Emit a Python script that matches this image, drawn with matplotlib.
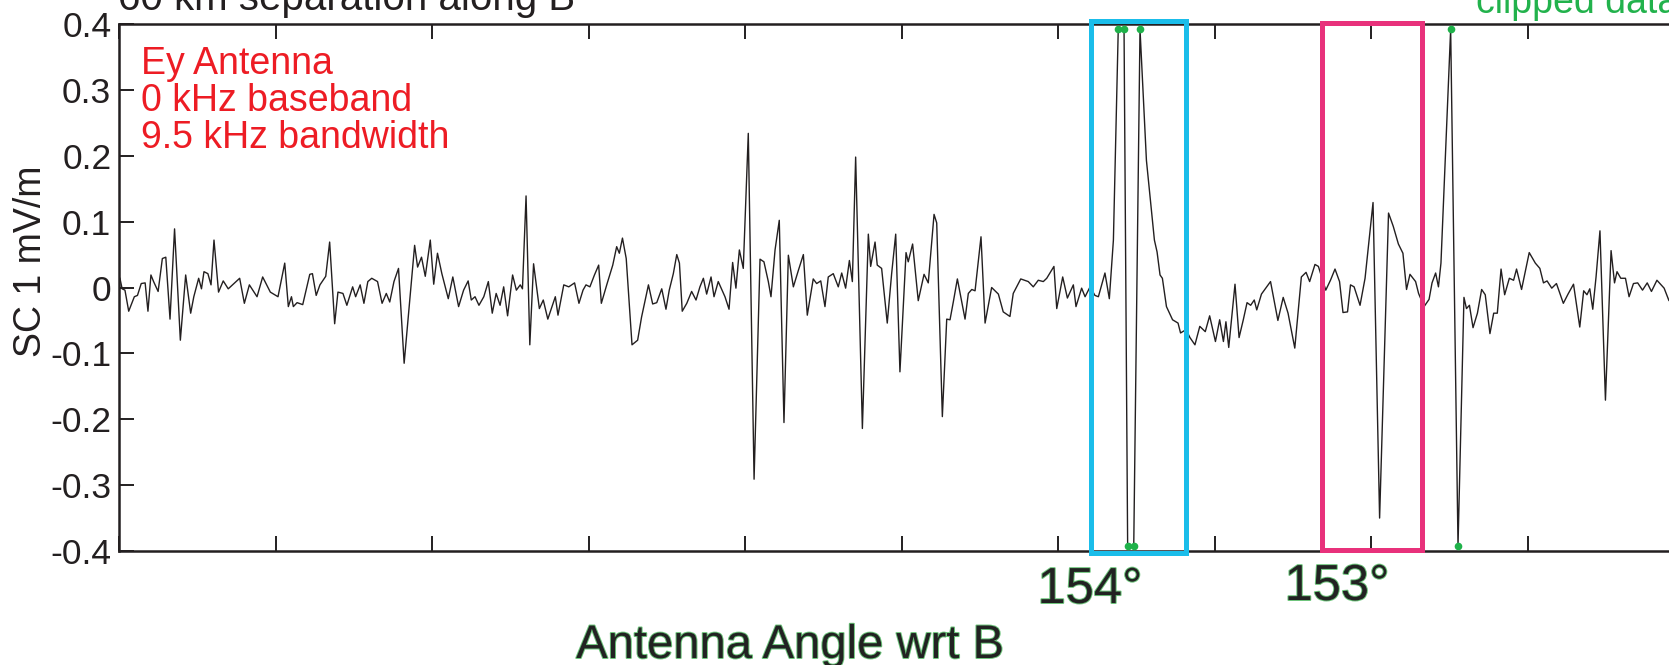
import matplotlib
matplotlib.use("Agg")
import matplotlib.pyplot as plt
import matplotlib.patheffects as pe
from matplotlib.patches import Rectangle

# trace: position along the pass (tick units) and field (mV/m)
angle = [
    0.006, 0.020, 0.038, 0.062, 0.098, 0.118, 0.142, 0.167, 0.185, 0.204,
    0.221, 0.250, 0.277, 0.299, 0.326, 0.355, 0.392, 0.426, 0.458, 0.478,
    0.509, 0.527, 0.543, 0.568, 0.588, 0.607, 0.636, 0.666, 0.698, 0.735,
    0.771, 0.801, 0.833, 0.882, 0.918, 0.967, 1.016, 1.059, 1.082, 1.102,
    1.114, 1.138, 1.174, 1.219, 1.236, 1.260, 1.284, 1.321, 1.346, 1.378,
    1.399, 1.431, 1.456, 1.493, 1.512, 1.541, 1.565, 1.590, 1.615, 1.652,
    1.681, 1.708, 1.730, 1.757, 1.786, 1.822, 1.889, 1.908, 1.933, 1.957,
    1.989, 2.011, 2.035, 2.063, 2.104, 2.133, 2.170, 2.202, 2.231, 2.251,
    2.275, 2.300, 2.331, 2.360, 2.385, 2.410, 2.435, 2.458, 2.483, 2.515,
    2.539, 2.564, 2.578, 2.601, 2.625, 2.649, 2.686, 2.711, 2.740, 2.788,
    2.805, 2.842, 2.874, 2.911, 2.939, 2.965, 2.984, 3.009, 3.038, 3.065,
    3.082, 3.119, 3.155, 3.180, 3.197, 3.217, 3.241, 3.278, 3.314, 3.339,
    3.383, 3.410, 3.436, 3.468, 3.495, 3.516, 3.542, 3.564, 3.581, 3.599,
    3.628, 3.659, 3.687, 3.712, 3.734, 3.755, 3.783, 3.802, 3.829, 3.872,
    3.898, 3.921, 3.942, 3.964, 3.989, 4.021, 4.058, 4.096, 4.121, 4.149,
    4.166, 4.192, 4.219, 4.249, 4.277, 4.309, 4.341, 4.373, 4.398, 4.436,
    4.458, 4.484, 4.511, 4.532, 4.564, 4.596, 4.618, 4.643, 4.667, 4.686,
    4.707, 4.750, 4.788, 4.803, 4.831, 4.845, 4.873, 4.909, 4.937, 4.963,
    4.990, 5.029, 5.043, 5.071, 5.107, 5.144, 5.171, 5.208, 5.225, 5.261,
    5.289, 5.310, 5.331, 5.357, 5.406, 5.427, 5.449, 5.470, 5.508, 5.534,
    5.576, 5.619, 5.650, 5.693, 5.714, 5.762, 5.810, 5.842, 5.874, 5.906,
    5.928, 5.974, 5.992, 6.030, 6.060, 6.098, 6.115, 6.151, 6.173, 6.205,
    6.236, 6.258, 6.300, 6.328, 6.354, 6.385, 6.422, 6.445, 6.484, 6.524,
    6.546, 6.565, 6.588, 6.616, 6.633, 6.652, 6.667, 6.693, 6.732, 6.767,
    6.783, 6.818, 6.843, 6.875, 6.906, 6.941, 6.969, 7.006, 7.033, 7.057,
    7.073, 7.091, 7.131, 7.157, 7.184, 7.208, 7.231, 7.254, 7.270, 7.300,
    7.358, 7.405, 7.439, 7.470, 7.513, 7.555, 7.585, 7.608, 7.642, 7.664,
    7.687, 7.711, 7.741, 7.770, 7.799, 7.821, 7.850, 7.869, 7.892, 7.930,
    7.962, 8.013, 8.055, 8.112, 8.142, 8.175, 8.204, 8.227, 8.249, 8.285,
    8.304, 8.339, 8.371, 8.390, 8.413, 8.431, 8.447, 8.509, 8.556, 8.594,
    8.610, 8.629, 8.652, 8.680, 8.707, 8.730, 8.760, 8.784, 8.807, 8.831,
    8.854, 8.884, 8.911, 8.930, 8.962, 9.011, 9.050, 9.079, 9.102, 9.125,
    9.155, 9.185, 9.229, 9.259, 9.294, 9.334, 9.359, 9.380, 9.398, 9.417,
    9.438, 9.463, 9.498, 9.534, 9.556, 9.572, 9.596, 9.626, 9.649, 9.677,
    9.704, 9.735, 9.765, 9.792, 9.827, 9.873, 9.904, 9.950,
]
field = [
    0.014, -0.002, -0.004, -0.036, -0.014, -0.012, 0.006, 0.007, -0.036, 0.019,
    0.009, -0.006, 0.044, 0.046, -0.048, 0.089, -0.080, 0.019, -0.039, -0.014,
    0.014, -0.002, 0.024, 0.021, 0.004, 0.072, -0.007, 0.010, -0.002, 0.006,
    0.014, -0.024, 0.004, -0.014, 0.016, -0.007, -0.014, 0.037, -0.029, -0.014,
    -0.029, -0.023, -0.026, 0.020, 0.021, -0.012, 0.004, 0.017, 0.069, -0.055,
    -0.007, -0.009, -0.027, 0.001, -0.014, 0.004, -0.024, 0.009, 0.014, 0.009,
    -0.024, -0.009, -0.022, 0.009, 0.029, -0.115, 0.064, 0.031, 0.046, 0.017,
    0.072, 0.005, 0.052, 0.021, -0.017, 0.016, -0.029, -0.004, 0.010, -0.019,
    -0.014, -0.027, -0.014, 0.009, -0.039, -0.009, -0.027, 0.001, -0.043, 0.019,
    -0.004, 0.004, -0.002, 0.139, -0.087, 0.036, -0.032, -0.019, -0.048, -0.014,
    -0.042, 0.004, 0.001, 0.007, -0.024, -0.004, 0.004, 0.001, 0.019, 0.034,
    -0.024, 0.006, 0.034, 0.062, 0.052, 0.075, 0.044, -0.087, -0.080, -0.045,
    0.004, -0.025, -0.023, -0.002, -0.033, -0.004, 0.021, 0.050, 0.037, -0.036,
    -0.024, -0.006, -0.019, 0.001, 0.014, -0.010, 0.016, -0.014, 0.009, -0.014,
    -0.033, 0.038, -0.001, 0.057, 0.029, 0.234, -0.291, 0.043, 0.039, 0.009,
    -0.014, 0.057, 0.102, -0.205, 0.049, 0.001, 0.026, 0.050, -0.042, 0.013,
    0.006, 0.010, -0.029, 0.016, 0.021, 0.001, 0.022, -0.001, 0.041, 0.009,
    0.198, -0.214, 0.081, 0.032, 0.069, 0.034, 0.029, -0.054, 0.021, 0.081,
    -0.128, 0.053, 0.039, 0.066, -0.020, 0.020, 0.007, 0.111, 0.098, -0.196,
    -0.048, -0.049, -0.022, 0.013, -0.048, -0.009, -0.003, -0.005, 0.077, -0.054,
    0.000, -0.010, -0.037, -0.044, -0.009, 0.013, 0.009, 0.001, 0.011, 0.009,
    0.014, 0.032, -0.032, 0.016, -0.016, 0.004, -0.029, -0.001, -0.014, 0.001,
    -0.012, -0.014, 0.022, -0.017, 0.072, 0.392, 0.392, -0.392, -0.392, 0.392,
    0.285, 0.193, 0.138, 0.072, 0.054, 0.019, 0.014, -0.029, -0.049, -0.054,
    -0.069, -0.064, -0.076, -0.087, -0.059, -0.067, -0.043, -0.082, -0.049, -0.082,
    -0.052, -0.091, 0.005, -0.076, -0.049, -0.023, -0.027, -0.019, -0.034, -0.010,
    0.009, -0.050, -0.015, -0.039, -0.092, 0.016, 0.023, 0.009, 0.035, 0.032,
    0.014, -0.004, 0.011, 0.028, 0.009, -0.038, -0.037, 0.004, 0.001, -0.027,
    0.014, 0.129, -0.350, 0.113, 0.093, 0.066, 0.052, -0.003, 0.020, 0.009,
    -0.009, -0.029, -0.018, 0.007, 0.022, 0.001, 0.037, 0.392, -0.392, -0.015,
    -0.032, -0.027, -0.061, -0.039, -0.003, -0.011, -0.070, -0.039, -0.039, 0.028,
    -0.011, 0.014, 0.011, 0.028, -0.003, 0.053, 0.037, 0.029, 0.007, 0.010,
    -0.001, 0.006, -0.024, -0.010, 0.005, -0.060, -0.005, -0.011, -0.002, -0.033,
    0.016, 0.086, -0.171, 0.056, 0.007, 0.024, 0.014, 0.014, -0.014, 0.006,
    0.007, -0.004, 0.007, -0.006, 0.011, -0.001, -0.020, -0.005,
]

# clipped samples
clip_angle = [6.385, 6.422, 6.524, 8.509, 6.445, 6.484, 8.556]
clip_field = [0.392, 0.392, 0.392, 0.392, -0.392, -0.392, -0.392]

# highlighted intervals (start, end) and their angle labels
blue_span = (6.208, 6.815)
pink_span = (7.687, 8.329)
span_labels = ["154°", "153°"]

yticks = [0.4, 0.3, 0.2, 0.1, 0.0, -0.1, -0.2, -0.3, -0.4]
ytick_labels = ["0.4", "0.3", "0.2", "0.1", "0", "-0.1", "-0.2", "-0.3", "-0.4"]

plt.rcParams["font.family"] = ["Liberation Sans", "DejaVu Sans"]

dark = "#231f20"
W, H = 1669, 665

fig = plt.figure(figsize=(W / 100, H / 100), dpi=100)
ax = fig.add_axes([119 / W, 1 - 551 / H, 1565 / W, 527 / H])

ax.plot(angle, field, color=dark, lw=1.0)
ax.plot(clip_angle, clip_field, "o", color="#1fb24a", ms=5.5, mec="none", clip_on=False, zorder=5)

ax.set_xlim(0, 10)
ax.set_ylim(-0.4, 0.4)
ax.set_xticks(range(11))
ax.set_xticklabels([])
ax.set_yticks(yticks)
ax.set_yticklabels(ytick_labels)
ax.tick_params(direction="in", length=10.8, width=1.4, top=True, right=True,
               labelsize=25.5, pad=5.5, colors=dark)
for s in ax.spines.values():
    s.set_linewidth(1.8)
    s.set_color(dark)

ax.add_patch(Rectangle((blue_span[0], -0.403), blue_span[1] - blue_span[0], 0.807,
                       fill=False, ec="#1abdea", lw=3.6, clip_on=False, zorder=6))
ax.add_patch(Rectangle((pink_span[0], -0.399), pink_span[1] - pink_span[0], 0.800,
                       fill=False, ec="#e8317b", lw=3.6, clip_on=False, zorder=6))

outline = [pe.Stroke(linewidth=1.4, foreground="#6cc47a"), pe.Normal()]
fig.text(1090 / W, 1 - 603 / H, span_labels[0], fontsize=36.5, color="#222222",
         ha="center", va="baseline", path_effects=outline)
fig.text(1337 / W, 1 - 600 / H, span_labels[1], fontsize=36.5, color="#222222",
         ha="center", va="baseline", path_effects=outline)
fig.text(790 / W, 1 - 658 / H, "Antenna Angle wrt B", fontsize=34, color="#222222",
         ha="center", va="baseline", path_effects=outline)

fig.text(31 / W, 1 - 261 / H, "SC 1 mV/m", fontsize=27, color=dark,
         rotation=90, ha="center", va="center")

fig.text(118 / W, 1 - 10 / H, "60 km separation along B", fontsize=29, color=dark,
         ha="left", va="baseline")
fig.text(1476 / W, 1 - 13 / H, "clipped data", fontsize=27, color="#22b24c",
         ha="left", va="baseline")

red = "#ed1c24"
fig.text(141 / W, 1 - 74 / H, "Ey Antenna", fontsize=27, color=red, va="baseline")
fig.text(141 / W, 1 - 111 / H, "0 kHz baseband", fontsize=27, color=red, va="baseline")
fig.text(141 / W, 1 - 148 / H, "9.5 kHz bandwidth", fontsize=27, color=red, va="baseline")

fig.savefig("out.png", dpi=100)
